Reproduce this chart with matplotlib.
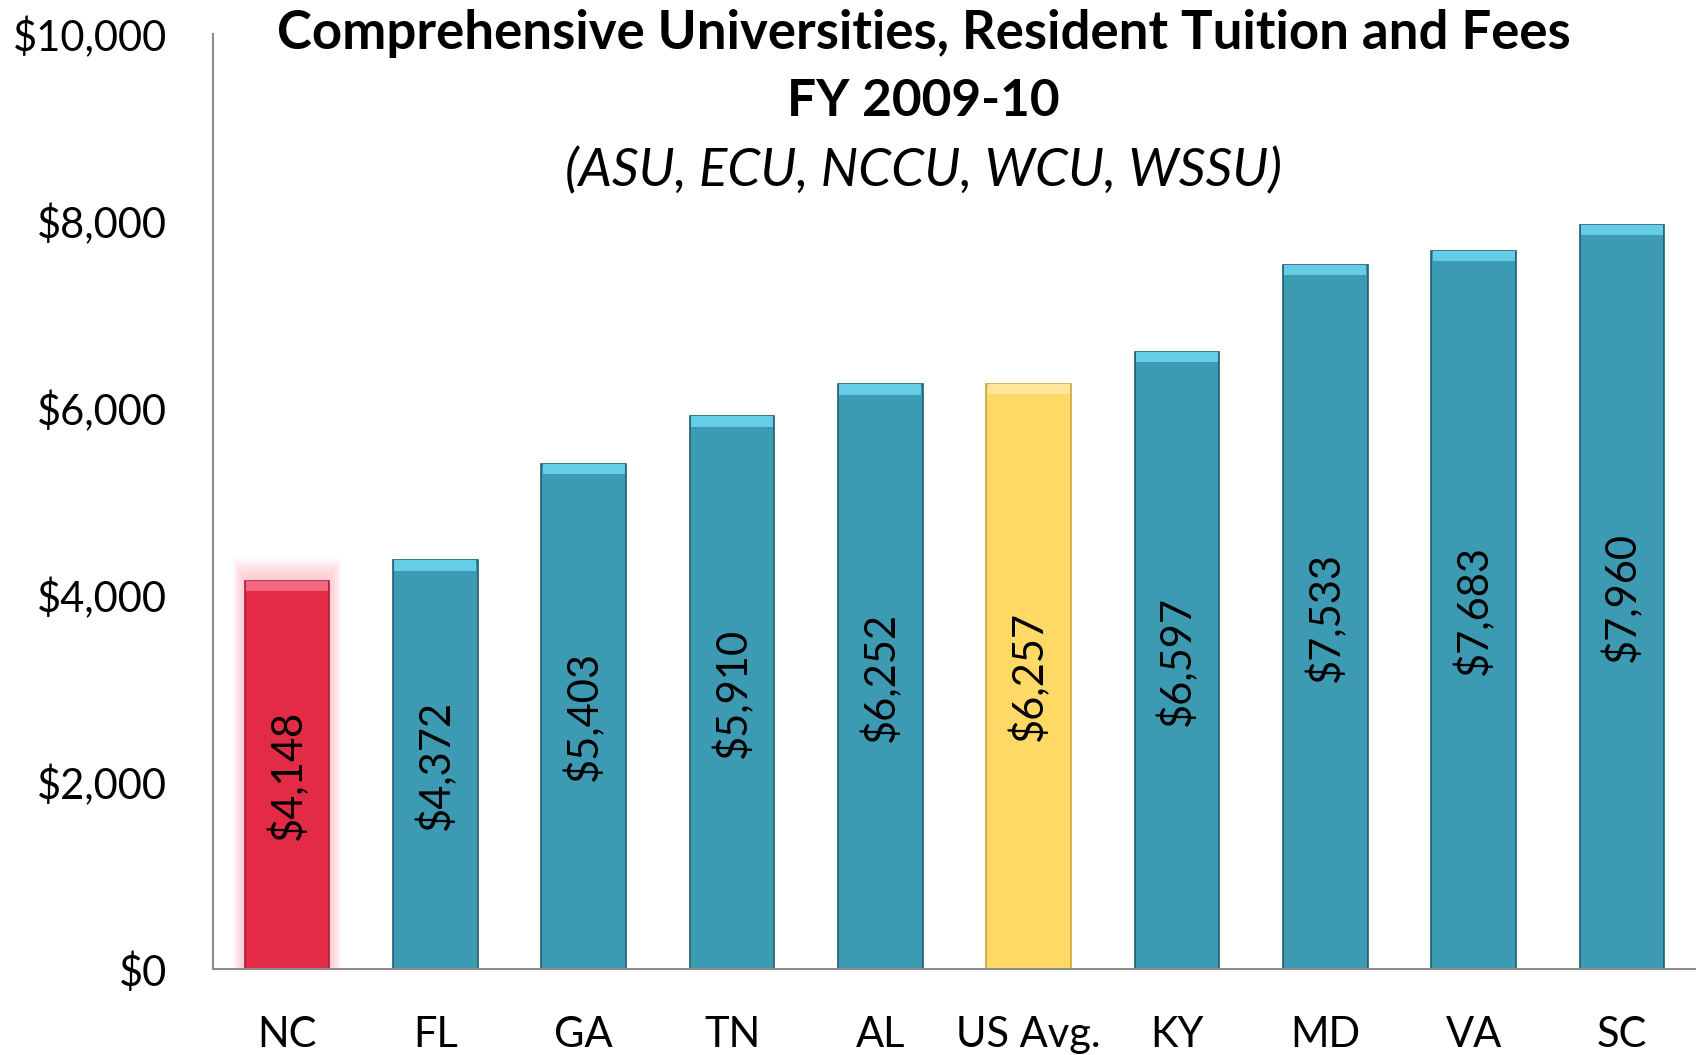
import numpy as np
import matplotlib.pyplot as plt

plt.rcParams['font.family'] = ['Lato', 'DejaVu Sans']

states = ['NC', 'FL', 'GA', 'TN', 'AL', 'US Avg.', 'KY', 'MD', 'VA', 'SC']
tuition = [4148, 4372, 5403, 5910, 6252, 6257, 6597, 7533, 7683, 7960]
colors = ['#E42B45', '#3D9AB3', '#3D9AB3', '#3D9AB3', '#3D9AB3',
          '#FFD966', '#3D9AB3', '#3D9AB3', '#3D9AB3', '#3D9AB3']
tops = ['#F2677C', '#66CDE8', '#66CDE8', '#66CDE8', '#66CDE8',
        '#FFE89C', '#66CDE8', '#66CDE8', '#66CDE8', '#66CDE8']
edges = ['#A8203A', '#1F5F72', '#1F5F72', '#1F5F72', '#1F5F72',
         '#C9A83E', '#1F5F72', '#1F5F72', '#1F5F72', '#1F5F72']

fig = plt.figure(figsize=(16.96, 10.55), dpi=100)
ax = fig.add_axes([0.1256, 0.0815, 0.8744, 0.8863])

x = np.arange(len(states))
w = 0.57
vals = np.array(tuition)

# soft pink glow around NC bar
for k in range(8):
    ax.bar(x[0], vals[0] + 60 + 25 * k, width=w + 0.02 + 0.02 * k,
           color='#FF9AAA', alpha=0.07, linewidth=0, zorder=1)

ax.bar(x, vals, width=w, color=colors, edgecolor=edges, linewidth=1.2, zorder=2)
# bevel highlight at the top of each bar
bev = 110
ax.bar(x, bev, bottom=vals - bev, width=w * 0.97, color=tops, linewidth=0, zorder=3)

for xi, v in zip(x, vals):
    ax.text(xi, v / 2, f'${v:,}', rotation=90, ha='center', va='center',
            fontsize=30, color='black', zorder=4)

ax.set_xlim(-0.5, len(states) - 0.5)
ax.set_ylim(0, 10000)
ax.set_yticks(np.arange(0, 10001, 2000))
ax.set_yticklabels([f'${t:,}' for t in range(0, 10001, 2000)])
ax.set_xticks(x)
ax.set_xticklabels(states)
ax.tick_params(axis='both', length=0, labelsize=30)
ax.tick_params(axis='x', pad=34)
ax.tick_params(axis='y', pad=33)
for s in ['top', 'right']:
    ax.spines[s].set_visible(False)
for s in ['left', 'bottom']:
    ax.spines[s].set_color('#8C8C8C')
    ax.spines[s].set_linewidth(1.5)

fig.text(0.5445, 0.968, 'Comprehensive Universities, Resident Tuition and Fees',
         ha='center', va='center', fontsize=38, fontweight='bold')
fig.text(0.5445, 0.904, 'FY 2009-10', ha='center', va='center',
         fontsize=37, fontweight='bold')
fig.text(0.5445, 0.838, '(ASU, ECU, NCCU, WCU, WSSU)', ha='center', va='center',
         fontsize=38, fontstyle='italic')

fig.savefig('out.png', dpi=100)
